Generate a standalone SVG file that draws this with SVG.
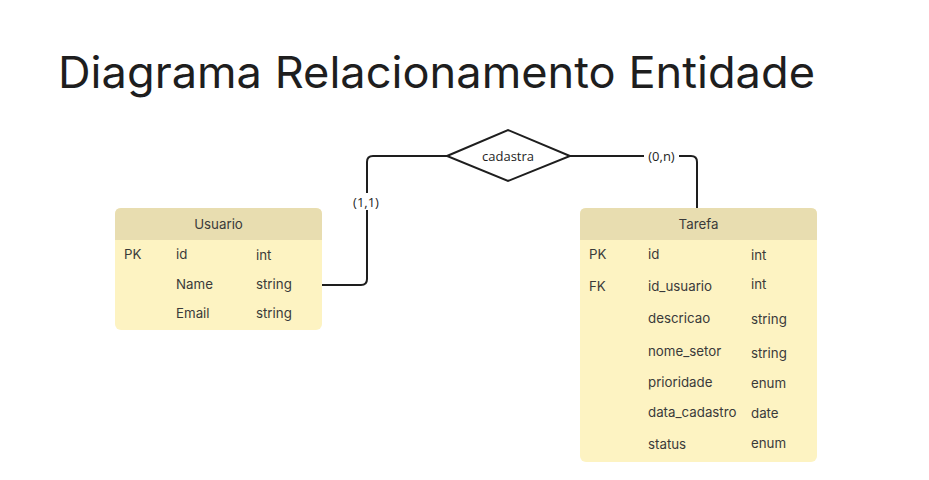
<svg xmlns="http://www.w3.org/2000/svg" width="929" height="480" viewBox="0 0 929 480">
<style>
.title{font-family:Inter,"Noto Sans",sans-serif;font-size:44px;fill:#1e1e1e}
.hdr{fill:#e8ddb0}
.body{fill:#fdf3c2}
.t{font-family:Inter,"Noto Sans",sans-serif;font-size:13.3px;fill:#3a3a3a}
.h{font-family:Inter,"Noto Sans",sans-serif;font-size:13.3px;fill:#3a3a3a;text-anchor:middle}
.lbl{font-family:"Open Sans","Noto Sans",sans-serif;font-size:13px;fill:#1e1e1e}
.ln{fill:none;stroke:#1e1e1e;stroke-width:2}
</style>
<rect width="929" height="480" fill="#ffffff"/>
<text class="title" x="58" y="88" textLength="757" lengthAdjust="spacingAndGlyphs">Diagrama Relacionamento Entidade</text>
<g id="connectors">
<path class="ln" d="M322,285 H361 Q367,285 367,279 V162 Q367,156 373,156 H447"/>
<path class="ln" d="M570,156 H644"/>
<path class="ln" d="M679,156 H691 Q697,156 697,162 V208"/>
<rect x="349" y="193" width="34" height="17" fill="#ffffff"/>
<text class="lbl" x="366" y="206.5" text-anchor="middle">(1,1)</text>
<text class="lbl" x="661.5" y="160.5" text-anchor="middle">(0,n)</text>
</g>
<g id="cadastra">
<polygon points="447,156 508,130 570,156 508,181" fill="#ffffff" stroke="#1e1e1e" stroke-width="2"/>
<text class="lbl" x="508" y="160.5" text-anchor="middle" font-size="13.5">cadastra</text>
</g>
<g id="usuario">
<rect class="body" x="115" y="208" width="207" height="122" rx="6"/>
<path class="hdr" d="M115,240 V214 Q115,208 121,208 H316 Q322,208 322,214 V240 Z"/>
<text class="h" x="218.5" y="229">Usuario</text>
<text class="t" x="124" y="259">PK</text>
<text class="t" x="176" y="259">id</text>
<text class="t" x="256" y="260">int</text>
<text class="t" x="176" y="289">Name</text>
<text class="t" x="256" y="289">string</text>
<text class="t" x="176" y="318">Email</text>
<text class="t" x="256" y="318">string</text>
</g>
<g id="tarefa">
<rect class="body" x="580" y="208" width="237" height="254" rx="6"/>
<path class="hdr" d="M580,240 V214 Q580,208 586,208 H811 Q817,208 817,214 V240 Z"/>
<text class="h" x="698.5" y="229">Tarefa</text>
<text class="t" x="589" y="259">PK</text>
<text class="t" x="648" y="259">id</text>
<text class="t" x="751" y="260">int</text>
<text class="t" x="589" y="291">FK</text>
<text class="t" x="648" y="291">id_usuario</text>
<text class="t" x="751" y="289">int</text>
<text class="t" x="648" y="323">descricao</text>
<text class="t" x="751" y="324">string</text>
<text class="t" x="648" y="356">nome_setor</text>
<text class="t" x="751" y="358">string</text>
<text class="t" x="648" y="387">prioridade</text>
<text class="t" x="751" y="388">enum</text>
<text class="t" x="648" y="417">data_cadastro</text>
<text class="t" x="751" y="418">date</text>
<text class="t" x="648" y="449">status</text>
<text class="t" x="751" y="448">enum</text>
</g>
</svg>
